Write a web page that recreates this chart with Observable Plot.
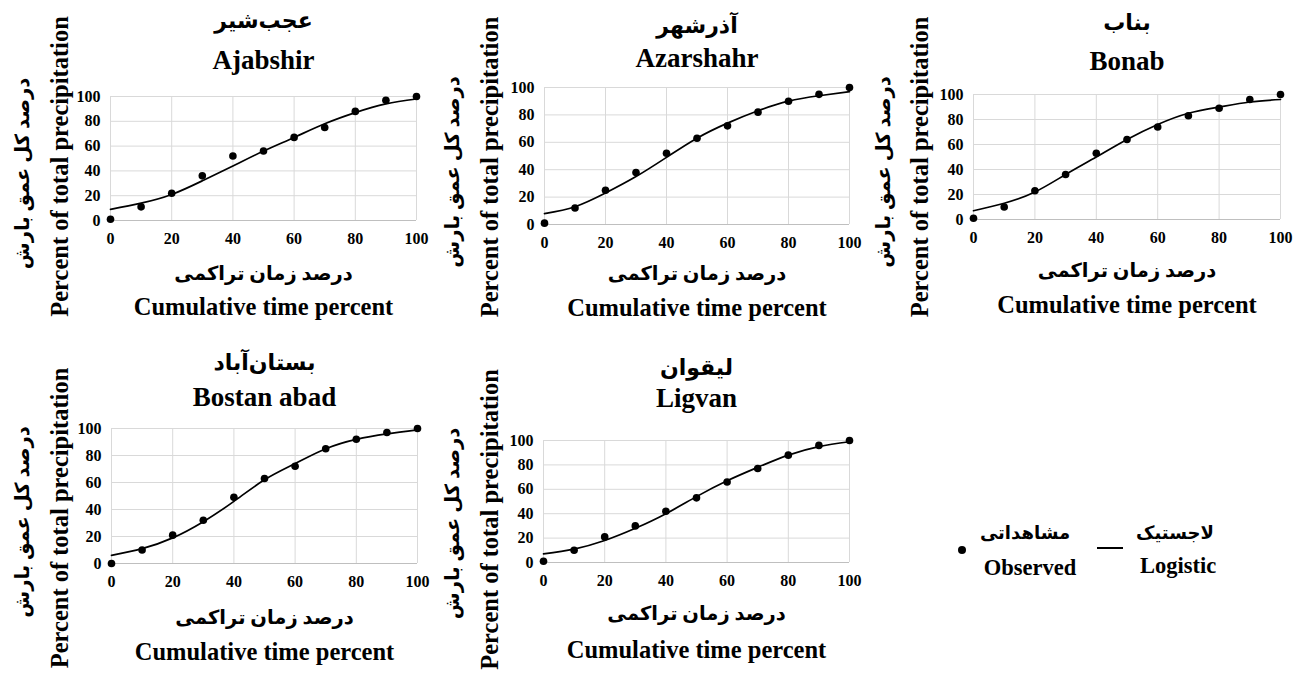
<!DOCTYPE html>
<html>
<head>
<meta charset="utf-8">
<script src="https://cdn.jsdelivr.net/npm/d3@7"></script>
<script src="https://cdn.jsdelivr.net/npm/@observablehq/plot@0.6"></script>
<style>
  html, body { margin: 0; padding: 0; background: #fff; }
  #fig { position: relative; width: 1301px; height: 678px; overflow: hidden; background: #fff;
         font-family: "Liberation Serif", "DejaVu Sans", serif; font-weight: bold; color: #000; }
  #fig svg { position: absolute; }
  .lg { position: absolute; transform: translate(-50%, -50%); white-space: nowrap; line-height: 1; }
</style>
</head>
<body>
<div id="fig"></div>
<script>
// Cumulative time percent (x) shared by every station
const timePct = [0, 10, 20, 30, 40, 50, 60, 70, 80, 90, 100];
const axisTicks = [0, 20, 40, 60, 80, 100];

// Station names
const stationsEn = ["Ajabshir", "Azarshahr", "Bonab", "Bostan abad", "Ligvan"];
const stationsFa = ["عجب‌شیر", "آذرشهر", "بناب", "بستان‌آباد", "لیقوان"];

// Observed cumulative precipitation percent
const obsAjabshir  = [1, 11, 22, 36, 52, 56, 67, 75, 88, 97, 100];
const obsAzarshahr = [1, 12, 25, 38, 52, 63, 72, 82, 90, 95, 100];
const obsBonab     = [1, 10, 23, 36, 53, 64, 74, 83, 89, 96, 100];
const obsBostan    = [0, 10, 21, 32, 49, 63, 72, 85, 92, 97, 100];
const obsLigvan    = [1, 10, 21, 30, 42, 53, 66, 77, 88, 96, 100];

// Fitted logistic curve, read at the same time steps
const fitAjabshir  = [9, 14, 21, 32, 44, 56, 67, 78, 87, 94, 98];
const fitAzarshahr = [8, 13, 23, 35, 49, 63, 74, 83, 90, 94, 97];
const fitBonab     = [7, 13, 22, 36, 50, 64, 76, 85, 90, 94, 96];
const fitBostan    = [6, 11, 19, 31, 46, 62, 74, 85, 92, 96, 99];
const fitLigvan    = [7, 11, 18, 28, 40, 54, 67, 78, 88, 95, 99];

// Axis titles
const xLabelFa = "درصد زمان تراکمی";
const xLabelEn = "Cumulative time percent";
const yLabelFa = "درصد کل عمق بارش";
const yLabelEn = "Percent of total precipitation";

// Legend labels
const legendObsFa = "مشاهداتی";
const legendObsEn = "Observed";
const legendFitFa = "لاجستیک";
const legendFitEn = "Logistic";

const observed = [obsAjabshir, obsAzarshahr, obsBonab, obsBostan, obsLigvan];
const fitted = [fitAjabshir, fitAzarshahr, fitBonab, fitBostan, fitLigvan];

// Panel frames on the page: plot box [x0, x1, y0, y1] plus offsets of the titles
const layout = [
  {row: 0,   box: [110, 416, 96, 220],  tFa: -76, tEn: -36, xFa: 53, xEn: 87, yEnDx: -50, yFaDx: -88, yEnDy: 8,  yFaDy: 15},
  {row: 0,   box: [544, 849, 87, 224],  tFa: -62, tEn: -29, xFa: 49, xEn: 84, yEnDx: -54, yFaDx: -92, yEnDy: 11, yFaDy: 16},
  {row: 0,   box: [973, 1280, 94, 219], tFa: -72, tEn: -33, xFa: 51, xEn: 86, yEnDx: -53, yFaDx: -90, yEnDy: 10, yFaDy: 15},
  {row: 338, box: [111, 417, 428, 563], tFa: -66, tEn: -31, xFa: 54, xEn: 89, yEnDx: -51, yFaDx: -89, yEnDy: 22, yFaDy: 26},
  {row: 338, box: [543, 849, 440, 562], tFa: -73, tEn: -42, xFa: 51, xEn: 88, yEnDx: -53, yFaDx: -91, yEnDy: 18, yFaDy: 22}
];

const fig = document.getElementById("fig");
const fontFamily = "'Liberation Serif', 'DejaVu Sans', serif";

stationsEn.forEach((name, i) => {
  const L = layout[i];
  const [x0, x1, y0, y1] = L.box;
  const mLeft = 110, mRight = 22;
  const width = (x1 - x0) + mLeft + mRight;
  const height = 338;
  const obs = timePct.map((t, j) => ({t, v: observed[i][j]}));
  const fit = timePct.map((t, j) => ({t, v: fitted[i][j]}));
  const label = (txt, opts) => Plot.text([txt], {
    text: d => d, fill: "#000", fontWeight: "bold", fontFamily,
    textAnchor: "middle", lineAnchor: "middle", ...opts
  });

  const chart = Plot.plot({
    width, height,
    marginLeft: mLeft, marginRight: mRight,
    marginTop: y0 - L.row, marginBottom: height - (y1 - L.row),
    style: {fontFamily, fontSize: "16px", fontWeight: "bold", color: "#000", background: "transparent", overflow: "visible"},
    x: {domain: [0, 100]},
    y: {domain: [0, 100]},
    marks: [
      Plot.gridX(axisTicks, {stroke: "#d9d9d9", strokeOpacity: 1}),
      Plot.gridY(axisTicks, {stroke: "#d9d9d9", strokeOpacity: 1}),
      Plot.ruleY([0], {stroke: "#bfbfbf", strokeWidth: 1.2}),
      Plot.axisX({ticks: axisTicks, tickSize: 0, tickPadding: 12, label: null,
                  fontFamily, fontSize: 16, fontWeight: "bold", fill: "#000"}),
      Plot.axisY({ticks: axisTicks, tickSize: 0, tickPadding: 10, label: null,
                  fontFamily, fontSize: 16, fontWeight: "bold", fill: "#000"}),
      Plot.line(fit, {x: "t", y: "v", curve: "natural", stroke: "#000", strokeWidth: 1.7}),
      Plot.dot(obs, {x: "t", y: "v", r: 3.8, fill: "#000", stroke: "none"}),
      label(stationsFa[i], {frameAnchor: "top", dy: L.tFa, fontSize: 22}),
      label(name, {frameAnchor: "top", dy: L.tEn, fontSize: 27}),
      label(xLabelFa, {frameAnchor: "bottom", dy: L.xFa, fontSize: 19.5}),
      label(xLabelEn, {frameAnchor: "bottom", dy: L.xEn, fontSize: 24.5}),
      label(yLabelEn, {frameAnchor: "left", rotate: -90, dx: L.yEnDx, dy: L.yEnDy, fontSize: 24.5}),
      label(yLabelFa, {frameAnchor: "left", rotate: -90, dx: L.yFaDx, dy: L.yFaDy, fontSize: 19.5})
    ]
  });
  chart.style.left = (x0 - mLeft) + "px";
  chart.style.top = L.row + "px";
  fig.appendChild(chart);
});

// Legend: observed dot and logistic line with bilingual labels
const addLegend = (html, css) => {
  const d = document.createElement("div");
  d.className = "lg";
  d.innerHTML = html;
  Object.assign(d.style, css);
  fig.appendChild(d);
};
addLegend("", {left: "962px", top: "550px", width: "8px", height: "8px", borderRadius: "50%", background: "#000"});
addLegend("", {left: "1110px", top: "548px", width: "26px", height: "2px", background: "#000"});
addLegend(legendObsFa, {left: "1025px", top: "533px", fontSize: "18px", fontFamily});
addLegend(legendObsEn, {left: "1030px", top: "568px", fontSize: "22.5px", fontFamily});
addLegend(legendFitFa, {left: "1175px", top: "533px", fontSize: "18px", fontFamily});
addLegend(legendFitEn, {left: "1178px", top: "566px", fontSize: "22.5px", fontFamily});
</script>
</body>
</html>
